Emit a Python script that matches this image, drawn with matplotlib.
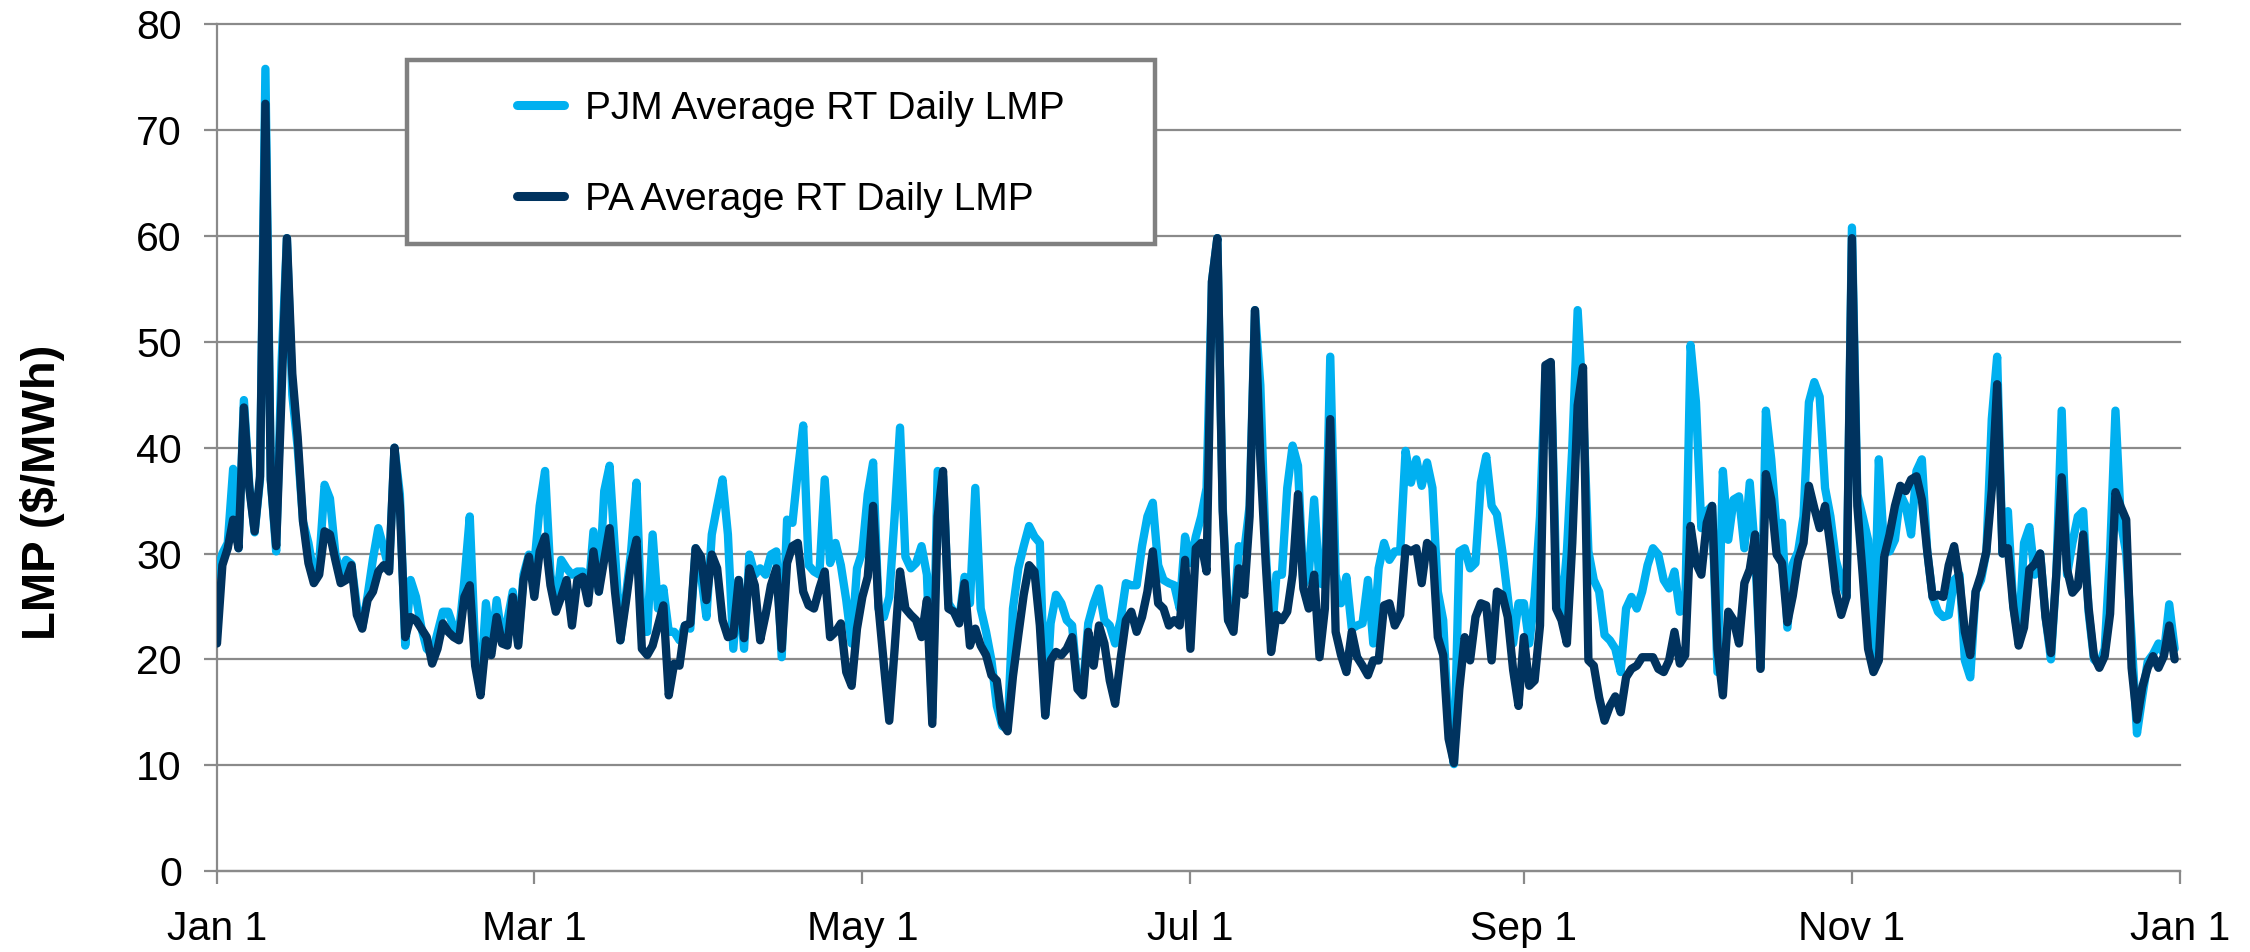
import matplotlib
matplotlib.use("Agg")
import matplotlib.pyplot as plt
from matplotlib.patches import Rectangle
import pandas as pd

plt.rcParams['font.family'] = ['Liberation Sans', 'DejaVu Sans']

# ---- data (daily values, Jan 1 .. Dec 31) ----
start_date = "2019-01-01"
pjm = [
    28, 30, 31, 38, 30.5, 44.5, 36.5, 32, 37, 75.8,
    37, 30.2, 48, 59.8, 45, 40, 33, 31, 28, 29,
    36.5, 35.2, 30, 28, 29.4, 29, 25, 23, 26, 29.5,
    32.4, 30.5, 28.5, 40, 35.6, 21.3, 27.5, 25.9, 23, 21,
    20.5, 22.5, 24.5, 24.5, 23, 22.5, 27.5, 33.5, 21, 17.5,
    25.3, 21, 25.6, 22, 23.7, 26.4, 21.5, 28, 29.9, 28.9,
    34.5, 37.8, 28, 24.8, 29.4, 28.6, 28, 28.3, 28.3, 25.9,
    32.1, 26.4, 35.9, 38.3, 30.2, 21.8, 25.9, 30.2, 36.7, 22.6,
    22.6, 31.8, 24.8, 26.7, 22.6, 22.6, 21.8, 23.2, 22.9, 30.5,
    28, 24, 31.8, 34.5, 37, 31.8, 21, 27.5, 21, 29.9,
    28, 28.6, 28, 29.9, 30.2, 20.2, 33.2, 32.9, 37.8, 42.1,
    28.9, 28.3, 28, 37, 29.1, 31, 28.9, 25.6, 21.5, 28.6,
    30.2, 35.6, 38.6, 24.8, 24, 25.9, 33.5, 41.9, 29.7, 28.6,
    29.1, 30.7, 28, 14.5, 37.8, 37.3, 25.3, 24.5, 23.7, 27.8,
    25.3, 36.2, 24.8, 22.6, 19.9, 15.6, 13.7, 13.4, 24.8, 28.6,
    30.7, 32.6, 31.6, 31, 14.7, 23.4, 26.1, 25.3, 23.7, 23.2,
    17.5, 17.2, 23.4, 25.3, 26.7, 23.7, 23.2, 21.5, 23.7, 27.2,
    27, 27, 30.7, 33.5, 34.8, 28.9, 27.5, 27.2, 27, 24.8,
    31.6, 29.1, 31.6, 33.5, 36.2, 55.7, 59.8, 34.5, 23.7, 23.2,
    30.7, 30.2, 34.5, 53, 45.9, 30.2, 21.5, 28, 28, 36.2,
    40.2, 38.3, 27, 28, 35.1, 27.2, 27, 48.6, 28, 25.3,
    27.8, 22.9, 23.2, 23.4, 27.5, 21.5, 28.6, 31, 29.4, 30.2,
    30.2, 39.7, 36.7, 38.9, 36.4, 38.6, 36.2, 26.4, 23.7, 13.4,
    10.1, 30.2, 30.5, 28.6, 29.1, 36.7, 39.2, 34.5, 33.7, 30.2,
    25.9, 21.5, 25.3, 25.3, 21.5, 25.9, 33.5, 47, 48, 28,
    24.2, 30.2, 40, 53, 44, 30.2, 27.5, 26.4, 22.3, 21.8,
    21, 18.8, 24.8, 25.9, 24.8, 26.4, 28.9, 30.5, 29.9, 27.5,
    26.7, 28.3, 24.5, 24.8, 49.7, 44.3, 32.4, 34, 34.5, 18.8,
    37.8, 31.3, 35.1, 35.4, 30.5, 36.7, 30, 19.2, 43.5, 38.9,
    32.1, 32.9, 23, 29, 30.2, 33.5, 44.3, 46.2, 44.8, 36.2,
    33.5, 29.4, 27.5, 25.9, 60.8, 35.6, 33.5, 31.3, 19.4, 38.9,
    30.2, 30.2, 31.3, 35.6, 34.5, 31.8, 37.8, 38.9, 30.2, 25.9,
    24.5, 24, 24.2, 27.5, 28, 19.9, 18.3, 26.4, 27.5, 30.2,
    42.7, 48.6, 30, 34, 25, 22, 31, 32.5, 28, 30,
    24, 20, 28, 43.5, 28, 31, 33.5, 34, 24.5, 20,
    19.5, 21, 30, 43.5, 33, 30, 22, 13, 16.5, 19.8,
    20.5, 21.5, 20.5, 25.2, 21,
]
pa = [
    21.5, 28.9, 30.5, 33.2, 30.5, 43.8, 36.2, 32.1, 37.3, 72.5,
    37, 30.7, 45, 59.8, 47, 41, 33, 29.1, 27.2, 28,
    32.1, 31.8, 29.4, 27.2, 27.5, 28.9, 24.2, 22.9, 25.6, 26.4,
    28.3, 28.9, 28.3, 40, 34.5, 22.1, 24, 23.7, 22.9, 22.1,
    19.6, 21, 23.4, 22.6, 22.1, 21.8, 25.9, 27, 19.4, 16.6,
    21.8, 20.4, 24, 21.5, 21.3, 25.9, 21.3, 27.5, 29.7, 25.9,
    30.2, 31.6, 27, 24.5, 25.9, 27.5, 23.2, 27.5, 27.8, 25.3,
    30.2, 26.4, 29.4, 32.4, 26.4, 21.8, 25.3, 29.1, 31.3, 21,
    20.4, 21.3, 23.2, 25.1, 16.6, 19.6, 19.4, 23.2, 23.4, 30.5,
    29.7, 25.6, 29.9, 28.6, 23.7, 22.1, 22.3, 27.5, 22, 28.6,
    27, 21.8, 24.2, 27, 28.6, 21, 29.1, 30.7, 31, 26.4,
    25.1, 24.8, 26.7, 28.3, 22.1, 22.6, 23.4, 18.8, 17.5, 22.9,
    25.9, 27.8, 34.5, 25, 19.5, 14.2, 21, 28.3, 24.8, 24.2,
    23.7, 22.1, 25.6, 13.9, 33.5, 37.8, 24.8, 24.5, 23.4, 27.2,
    21.3, 22.9, 21.3, 20.4, 18.5, 18, 14, 13.2, 18.4, 22.3,
    26.1, 28.9, 28.3, 23.2, 14.7, 19.9, 20.7, 20.4, 21, 22.1,
    17.2, 16.6, 22.6, 19.4, 23.2, 21.5, 18, 15.8, 20, 23.7,
    24.5, 22.6, 24, 26.4, 30.2, 25.3, 24.8, 23.2, 23.7, 23.2,
    29.4, 21, 30.5, 31, 28.3, 55.7, 59.8, 34, 23.7, 22.6,
    28.6, 26.1, 33.5, 53, 38.9, 29.1, 20.7, 24.2, 23.7, 24.5,
    28, 35.6, 26.7, 24.8, 28, 20.2, 24.8, 42.7, 22.6, 20.4,
    18.8, 22.6, 20.2, 19.4, 18.5, 19.9, 19.9, 25.1, 25.3, 23.2,
    24.2, 30.5, 30.2, 30.5, 27.2, 31, 30.5, 22.1, 20.4, 12.5,
    10.2, 17.2, 22.1, 19.9, 24, 25.3, 25.1, 19.9, 26.4, 26.1,
    24, 19, 15.6, 22.1, 17.5, 18, 23.2, 47.8, 48.1, 24.8,
    23.7, 21.5, 31, 44, 47.6, 19.9, 19.4, 16.4, 14.2, 15.6,
    16.5, 15, 18.3, 19.1, 19.4, 20.2, 20.2, 20.2, 19.1, 18.8,
    19.9, 22.6, 19.6, 20.4, 32.6, 29.1, 28, 32.9, 34.5, 21,
    16.6, 24.5, 23.7, 21.5, 27.2, 28.5, 31.8, 19.1, 37.5, 35.1,
    29.9, 29.1, 23.5, 26, 29.4, 31, 36.4, 34.3, 32.4, 34.5,
    30.7, 26.4, 24.2, 25.9, 59.8, 34.5, 28, 21, 18.8, 19.9,
    29.7, 31.8, 34.5, 36.4, 35.9, 37, 37.3, 35.1, 30.2, 25.9,
    26.1, 25.9, 28.9, 30.7, 27.5, 22.6, 20.4, 26.4, 28, 30.2,
    36, 46, 30, 30.5, 25, 21.3, 23, 28.5, 29, 30,
    24, 20.6, 28, 37.2, 28.5, 26.3, 26.9, 31.8, 24.9, 20.3,
    19.2, 20.3, 24.3, 35.8, 34.4, 33.2, 19.2, 14.3, 17.4, 19.2,
    20.3, 19.2, 20.3, 23.2, 20,
]
series_labels = ["PJM Average RT Daily LMP", "PA Average RT Daily LMP"]
tick_dates = ["2019-01-01", "2019-03-01", "2019-05-01", "2019-07-01",
              "2019-09-01", "2019-11-01", "2020-01-01"]
tick_labels = ["Jan 1", "Mar 1", "May 1", "Jul 1", "Sep 1", "Nov 1", "Jan 1"]
y_ticks = [0, 10, 20, 30, 40, 50, 60, 70, 80]
y_label = "LMP ($/MWh)"

# ---- styling ----
C_PJM = "#00B0F0"
C_PA = "#00335F"
GRID = "#8A8A8A"
W, H = 2250, 952

fig = plt.figure(figsize=(W / 100, H / 100), dpi=100)
fig.patch.set_facecolor("white")
ax = fig.add_axes([217 / W, 1 - 871 / H, (2180 - 217) / W, (871 - 24.4) / H])

dates = pd.date_range(start_date, periods=len(pjm), freq="D")
l1, = ax.plot(dates, pjm, color=C_PJM, lw=6, solid_joinstyle="round",
              solid_capstyle="round", zorder=3)
l2, = ax.plot(dates, pa, color=C_PA, lw=6, solid_joinstyle="round",
              solid_capstyle="round", zorder=4)

ax.set_ylim(0, 80)
ax.set_yticks(y_ticks)
ax.set_xlim(pd.Timestamp(tick_dates[0]), pd.Timestamp(tick_dates[-1]))
ax.set_xticks([pd.Timestamp(d) for d in tick_dates])
ax.set_xticklabels(tick_labels)

ax.yaxis.grid(True, color=GRID, lw=1.6)
ax.set_axisbelow(True)
for gl in ax.get_ygridlines():
    gl.set_clip_on(False)
for s in ["top", "right"]:
    ax.spines[s].set_visible(False)
for s in ["left", "bottom"]:
    ax.spines[s].set_color(GRID)
    ax.spines[s].set_linewidth(1.6)

ax.tick_params(axis="y", direction="out", length=9.3, width=1.6, color=GRID,
               labelsize=29.5, pad=16, labelcolor="black")
ax.tick_params(axis="x", direction="out", length=9.3, width=1.6, color=GRID,
               labelsize=29.5, pad=19, labelcolor="black")

fig.text(43 / W, 1 - 492 / H, y_label, rotation=90, ha="center", va="center",
         fontsize=34, fontweight="bold")

# legend frame + legend
fig.patches.append(Rectangle((407 / W, 1 - 244 / H), (1155 - 407) / W,
                             (244 - 60) / H, transform=fig.transFigure,
                             facecolor="white", edgecolor="#808080", lw=3.2,
                             zorder=5))
leg = fig.legend([l1, l2], series_labels, loc="center left",
                 bbox_to_anchor=(517 / W, 1 - 154.5 / H), frameon=False,
                 fontsize=28, handlelength=1.2, handletextpad=0.55,
                 labelspacing=1.42, borderpad=0, borderaxespad=0)
leg.set_zorder(6)
for h in leg.legend_handles:
    h.set_linewidth(6.5)
    h.set_solid_capstyle("round")

fig.savefig("out.png", dpi=100, facecolor="white")
